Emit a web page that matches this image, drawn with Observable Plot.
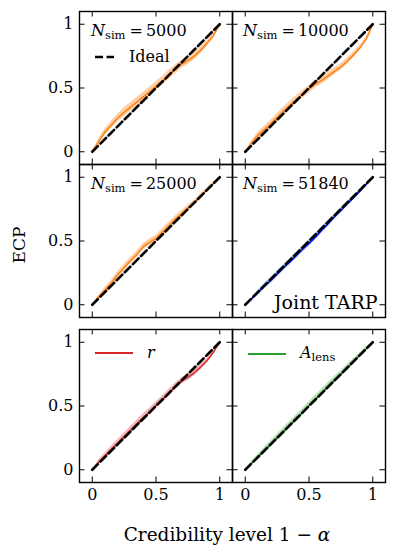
<!DOCTYPE html>
<html><head><meta charset="utf-8">
<script src="https://cdn.jsdelivr.net/npm/d3@7"></script>
<script src="https://cdn.jsdelivr.net/npm/@observablehq/plot@0.6"></script>
<style>
html,body{margin:0;padding:0;background:#fff;}
body{width:397px;height:559px;position:relative;overflow:hidden;font-family:"DejaVu Serif",serif;color:#000;}
.panel{position:absolute;}
.lab{position:absolute;white-space:nowrap;line-height:1;font-family:"DejaVu Serif",serif;}
.leg{position:absolute;display:flex;align-items:center;white-space:nowrap;font-family:"DejaVu Serif",serif;}
</style></head><body>
<script>
// ---- data ----
const credLevels = [0,0.05,0.1,0.15,0.2,0.25,0.3,0.35,0.4,0.45,0.5,0.55,0.6,0.65,0.7,0.75,0.8,0.85,0.9,0.95,1];
const ecp5000  = [0,0.08,0.155,0.21,0.265,0.31,0.35,0.39,0.43,0.47,0.515,0.555,0.6,0.645,0.685,0.715,0.75,0.795,0.85,0.91,1];
const ecp10000 = [0,0.07,0.13,0.175,0.22,0.27,0.32,0.365,0.41,0.45,0.49,0.53,0.56,0.595,0.63,0.665,0.71,0.76,0.815,0.885,1];
const ecp25000 = [0,0.06,0.115,0.17,0.235,0.29,0.345,0.395,0.455,0.49,0.52,0.57,0.62,0.67,0.715,0.76,0.8,0.85,0.9,0.95,1];
const ecp51840 = [0,0.045,0.095,0.145,0.19,0.24,0.29,0.335,0.385,0.435,0.48,0.53,0.585,0.635,0.69,0.74,0.79,0.84,0.89,0.945,1];
const ecpR     = [0,0.06,0.11,0.16,0.21,0.26,0.31,0.36,0.41,0.455,0.505,0.55,0.6,0.65,0.695,0.725,0.76,0.805,0.855,0.92,1];
const ecpAlens = [0,0.05,0.1,0.15,0.2,0.25,0.3,0.35,0.4,0.45,0.505,0.555,0.605,0.655,0.705,0.75,0.8,0.85,0.9,0.95,1];
const spread5000  = [0,0.018,0.025,0.03,0.03,0.035,0.035,0.035,0.035,0.035,0.035,0.035,0.035,0.035,0.03,0.03,0.03,0.025,0.022,0.018,0];
const spread10000 = [0,0.015,0.022,0.025,0.028,0.028,0.03,0.03,0.03,0.03,0.03,0.03,0.03,0.028,0.028,0.025,0.025,0.022,0.02,0.015,0];
const spread25000 = [0,0.012,0.018,0.022,0.025,0.025,0.025,0.025,0.025,0.025,0.025,0.025,0.025,0.025,0.022,0.022,0.02,0.018,0.015,0.012,0];
const spread51840 = [0,0.012,0.018,0.022,0.025,0.025,0.025,0.025,0.025,0.025,0.025,0.025,0.025,0.025,0.022,0.022,0.02,0.018,0.015,0.012,0];
const spreadR     = [0,0.015,0.02,0.024,0.025,0.027,0.027,0.027,0.027,0.027,0.027,0.027,0.027,0.027,0.025,0.025,0.025,0.022,0.018,0.015,0];
const spreadAlens = [0,0.015,0.02,0.024,0.025,0.027,0.027,0.027,0.027,0.027,0.027,0.027,0.027,0.027,0.025,0.025,0.025,0.022,0.018,0.015,0];
const idealLevels = [0, 1];
const tickValues = [0, 0.5, 1];
const nsimLabels = ["5000", "10000", "25000", "51840"];

// ---- layout ----
const PW = 153, PH = 153;
const colLeft = [79, 232];
const rowTop = [11, 164, 329];
const ML = 40, MR = 8, MT = 8, MB = 30;
const FONT = "'DejaVu Serif', serif";

const panels = [
  {ecp: ecp5000,  spread: spread5000,  color: "#ff7f0e", band: "#ffcfa6", sw: 1.5, row: 0, col: 0, nsim: nsimLabels[0]},
  {ecp: ecp10000, spread: spread10000, color: "#ff7f0e", band: "#ffcfa6", sw: 1.5, row: 0, col: 1, nsim: nsimLabels[1]},
  {ecp: ecp25000, spread: spread25000, color: "#ff7f0e", band: "#ffcfa6", sw: 1.5, row: 1, col: 0, nsim: nsimLabels[2]},
  {ecp: ecp51840, spread: spread51840, color: "#0000ff", band: "#add0ee", sw: 1.4, row: 1, col: 1, nsim: nsimLabels[3], joint: true},
  {ecp: ecpR,     spread: spreadR,     color: "#d62728", band: "#f3b4b4", sw: 1.4, row: 2, col: 0},
  {ecp: ecpAlens, spread: spreadAlens, color: "#2ca02c", band: "#b4e0b4", sw: 1.4, row: 2, col: 1}
];

const TL = 5.5;
panels.forEach(p => {
  const rows = credLevels.map((c, i) => ({x: c, y: p.ecp[i], lo: p.ecp[i] - p.spread[i], hi: p.ecp[i] + p.spread[i]}));
  const marks = [
    Plot.areaY(rows, {x: "x", y1: "lo", y2: "hi", fill: p.band, curve: "linear"}),
    Plot.line(rows, {x: "x", y: "y", stroke: p.color, strokeWidth: p.sw}),
    Plot.line(idealLevels, {x: d => d, y: d => d, stroke: "black", strokeWidth: 2.6, strokeDasharray: "8,3.5"}),
    Plot.frame({stroke: "black", strokeWidth: 1.4}),
    Plot.ruleX(tickValues, {x: d => d, insetTop: PH - TL, stroke: "black", strokeWidth: 1}),
    Plot.ruleX(tickValues, {x: d => d, insetBottom: PH - TL, stroke: "black", strokeWidth: 1}),
    Plot.ruleY(tickValues, {y: d => d, insetRight: PW - TL, stroke: "black", strokeWidth: 1}),
    Plot.ruleY(tickValues, {y: d => d, insetLeft: PW - TL, stroke: "black", strokeWidth: 1})
  ];
  if (p.col === 0) marks.push(Plot.axisY(tickValues, {anchor: "left", tickSize: 0, tickPadding: 6, tickFormat: d => String(d), fontSize: 16, fontFamily: FONT, label: null}));
  if (p.row === 2) marks.push(Plot.axisX(tickValues, {anchor: "bottom", tickSize: 0, tickPadding: 6, tickFormat: d => String(d), fontSize: 16, fontFamily: FONT, label: null}));
  if (p.nsim) marks.push(Plot.text([p.nsim], {text: d => d, frameAnchor: "top-left", dx: p.col === 0 ? 11.5 : 10.5, dy: 24, lineAnchor: "bottom", textAnchor: "start", fontSize: 16, fontFamily: FONT}));
  if (p.joint) marks.push(Plot.text(["Joint TARP"], {text: d => d, frameAnchor: "bottom-right", dx: -8, dy: -9, lineAnchor: "bottom", textAnchor: "end", fontSize: 19, fontFamily: FONT}));

  const chart = Plot.plot({
    width: ML + PW + MR, height: MT + PH + MB,
    marginLeft: ML, marginRight: MR, marginTop: MT, marginBottom: MB,
    x: {domain: [-0.1, 1.1], label: null, axis: p.row === 2 ? undefined : null},
    y: {domain: [-0.1, 1.1], label: null, axis: p.col === 0 ? undefined : null},
    style: {fontFamily: FONT, fontSize: "16px", color: "black", background: "transparent", overflow: "visible"},
    marks
  });
  const wrap = document.createElement("div");
  wrap.className = "panel";
  wrap.style.left = (colLeft[p.col] - ML) + "px";
  wrap.style.top = (rowTop[p.row] - MT) + "px";
  wrap.appendChild(chart);
  document.body.appendChild(wrap);

  if (p.nsim) {
    d3.select(chart).selectAll("text").filter(function() { return this.textContent === p.nsim; }).each(function() {
      const t = d3.select(this);
      const target = t.selectAll("tspan").size() ? t.select("tspan") : t;
      target.text(null);
      target.append("tspan").attr("font-style", "italic").text("N");
      target.append("tspan").attr("font-size", 11.5).attr("dy", 3).text("sim");
      target.append("tspan").attr("dy", -3).attr("dx", 4).text("=");
      target.append("tspan").attr("dx", 3).text(p.nsim);
    });
  }
});

// ---- legends & axis titles (HTML) ----
function addLegend(left, top, dashed, color, html) {
  const d = document.createElement("div");
  d.className = "leg";
  d.style.left = left + "px"; d.style.top = top + "px";
  const sw = dashed
    ? `<svg width="19" height="6" style="display:block"><line x1="0" x2="19" y1="3" y2="3" stroke="black" stroke-width="2.6" stroke-dasharray="8,3.5"/></svg>`
    : `<svg width="38" height="6" style="display:block"><line x1="0" x2="38" y1="3" y2="3" stroke="${color}" stroke-width="2"/></svg>`;
  d.innerHTML = sw + `<span style="margin-left:${dashed ? 15 : 14}px;font-size:16px;">${html}</span>`;
  document.body.appendChild(d);
}
addLegend(95, 47, true, "black", "Ideal");
addLegend(95, 343, false, "#d62728", "<i>r</i>");
addLegend(248, 343, false, "#2ca02c", "<i>A</i><sub style='font-size:11.5px;vertical-align:-3px'>lens</sub>");

const ylab = document.createElement("div");
ylab.className = "lab";
ylab.textContent = "ECP";
ylab.style.cssText += "font-size:17px;left:19px;top:245px;transform:translate(-50%,-50%) rotate(-90deg);";
document.body.appendChild(ylab);

const xlab = document.createElement("div");
xlab.className = "lab";
xlab.innerHTML = "Credibility level 1 − <i>α</i>";
xlab.style.cssText += "font-size:18.5px;left:227px;top:535px;transform:translate(-50%,-50%);";
document.body.appendChild(xlab);
</script>
</body></html>
